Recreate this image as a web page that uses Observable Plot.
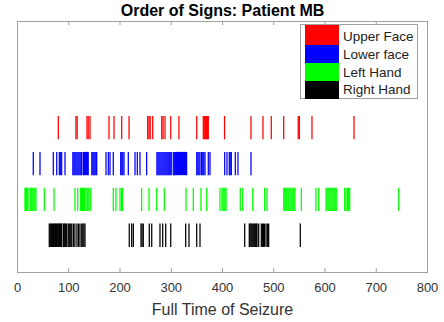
<!DOCTYPE html>
<html><head><meta charset="utf-8">
<script src="https://cdn.jsdelivr.net/npm/d3@7"></script>
<script src="https://cdn.jsdelivr.net/npm/@observablehq/plot@0.6"></script>
<style>
body{margin:0;background:#fff;}
#wrap{position:relative;width:444px;height:322px;font-family:"Liberation Sans",Arial,sans-serif;}
#legend{position:absolute;left:300px;top:24px;width:118px;height:75px;border:1px solid #a0a0a0;background:#fff;box-sizing:border-box;}
.sw{position:absolute;left:4px;width:34px;}
.lt{position:absolute;left:42px;font-size:13.5px;color:#222;line-height:16px;white-space:nowrap;}
</style></head><body><div id="wrap"></div>
<script>
const categories = ["Upper Face", "Lower face", "Left Hand", "Right Hand"];
const colors = ["#ff0000", "#0000ff", "#00ff00", "#000000"];
const rows = [4, 3, 2, 1];
const upperFace = [79.6, 114, 116.5, 135.6, 138, 141.5, 178.5, 188.3, 203.3, 217.6, 254, 256.5, 259, 263.8,
  281.4, 284, 287.8, 299, 315, 349.7, 362.5, 364.5, 366.5, 368.5, 370.5, 372.3, 404, 455.6, 479, 495.2,
  519.4, 547.8, 550, 574.6, 656.6];
const lowerFace = [30.8, 43.9, 69.9, 76.5, 81.6, 83.5, 86.2, 92.7,
  108, 110, 112, 114, 116, 118, 120, 122, 124, 125.3, 128.5, 130.5, 132.5, 134.5, 136.5, 138,
  145, 147, 149, 151, 153, 154.5, 172.7, 177.2, 180.5, 186.9, 201.4, 203.5, 205.5, 207.8, 216.2,
  229.3, 233.8, 239, 252,
  272, 274, 276, 278, 280, 282, 284, 286, 288, 290, 292, 294, 296, 298, 300,
  304, 306, 308, 310, 312, 314, 316, 318, 320, 322, 324, 326, 328, 330,
  349.7, 352, 354, 356.1, 359.3, 361.5, 363.5, 365.9, 372.3, 375.6,
  404.3, 408.8, 413.3, 415, 417.2, 425, 430.2, 455.6];
const leftHand = [14.6, 16, 17.5, 19, 20.5, 24.4, 26, 28, 30, 32, 34, 36, 52.3, 71.2, 112.2, 117.5,
  123.3, 125, 127, 129, 131, 133.7, 136.2, 139, 142.8, 186.9, 192.2, 200, 203, 205, 242.3, 256.6,
  271.6, 286.4, 328.8, 343, 358, 369.2, 395.1, 399, 401, 403, 405, 407, 434.7, 439.4, 459, 482.3, 486.8,
  519.5, 521.5, 523.5, 525.5, 527.5, 529.5, 531.5, 533.5, 535.5, 537.5, 539.5, 541, 553.8, 582.4, 587.7,
  602, 604, 606, 608, 610, 612, 613.7, 616, 618, 620, 623, 638.4, 641, 644, 646, 648.2, 743.8];
const rightHand = [62, 64, 66, 68, 70, 71.5, 73, 74.5, 76, 77.5, 79, 80.5, 82, 83.5, 85, 86.2,
  89.5, 91, 92.5, 94, 96, 99, 101, 103, 105.8, 109, 112, 116, 119, 121.9, 125.3, 127.5, 129.5, 131.7,
  218.1, 222.8, 226, 241, 243, 245.5, 257.2, 261.9, 278, 283.3, 289.2, 299, 328.2, 334.6, 349.7, 356.1,
  443.3, 452.3, 454, 456, 458, 460, 462, 464, 466, 467.3, 470.6, 475.7, 478, 480, 482, 485, 488, 490.1, 551.8];
const xTicks = [0, 100, 200, 300, 400, 500, 600, 700, 800];
const title = "Order of Signs: Patient MB";
const xLabel = "Full Time of Seizure";

const series = [upperFace, lowerFace, leftHand, rightHand];
const events = series.flatMap((vals, i) => vals.map(t => ({t, cat: categories[i], row: rows[i]})));
const font = "'Liberation Sans', Arial, sans-serif";

const plot = Plot.plot({
  width: 444, height: 322,
  marginLeft: 17, marginRight: 17, marginTop: 21, marginBottom: 50,
  style: {fontFamily: font, background: "#fff", overflow: "visible"},
  x: {domain: [0, 800], label: null},
  y: {domain: [0, 7], axis: null},
  color: {domain: categories, range: colors},
  marks: [
    Plot.ruleX(events, {x: "t", y1: d => d.row - 0.3, y2: d => d.row + 0.35, stroke: "cat", strokeWidth: 1.25}),
    Plot.frame({stroke: "#a0a0a0"}),
    Plot.ruleX(xTicks, {x: d => d, insetTop: 247, stroke: "#a0a0a0"}),
    Plot.ruleX(xTicks, {x: d => d, insetBottom: 247, stroke: "#a0a0a0"}),
    Plot.axisX(xTicks, {tickSize: 0, tickPadding: 10, fontSize: 13, fill: "#333", label: null}),
    Plot.text([title], {frameAnchor: "top", lineAnchor: "middle", dy: -11, fontSize: 16, fontWeight: "bold", fill: "#000"}),
    Plot.text([xLabel], {frameAnchor: "bottom", lineAnchor: "middle", dy: 37, fontSize: 16, fill: "#333"})
  ]
});
const wrap = document.getElementById("wrap");
wrap.appendChild(plot);

const legend = document.createElement("div");
legend.id = "legend";
const bounds = [0, 20, 38, 56, 74];
const centers = [12, 30, 47.7, 65.3];
categories.forEach((c, i) => {
  const sw = document.createElement("div");
  sw.className = "sw";
  sw.style.top = bounds[i] + "px";
  sw.style.height = (bounds[i + 1] - bounds[i]) + "px";
  sw.style.background = colors[i];
  legend.appendChild(sw);
  const lt = document.createElement("div");
  lt.className = "lt";
  lt.style.top = (centers[i] - 8) + "px";
  lt.textContent = c;
  legend.appendChild(lt);
});
wrap.appendChild(legend);
</script></body></html>
